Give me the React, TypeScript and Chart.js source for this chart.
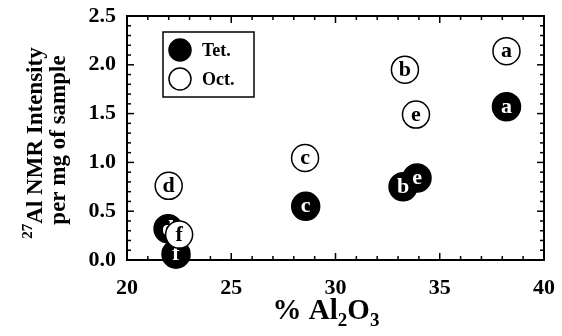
import { useEffect, useRef } from "react";
import { Chart, registerables } from "chart.js";

Chart.register(...registerables);

const samples = ["a", "b", "c", "d", "e", "f"];
const tetAlumina = [38.2, 33.24, 28.57, 21.97, 33.91, 22.35];
const tetIntensity = [1.57, 0.75, 0.55, 0.32, 0.84, 0.06];
const octAlumina = [38.2, 33.33, 28.54, 22.0, 33.86, 22.5];
const octIntensity = [2.14, 1.95, 1.045, 0.76, 1.49, 0.26];
const seriesNames = ["Tet.", "Oct."];
const xRange = [20, 40];
const yRange = [0, 2.5];

const SERIF = '"Liberation Serif", "Times New Roman", serif';

function line(ctx: CanvasRenderingContext2D, x1: number, y1: number, x2: number, y2: number) {
  ctx.beginPath();
  ctx.moveTo(x1, y1);
  ctx.lineTo(x2, y2);
  ctx.stroke();
}

function zeroPad(s: any) {
  s.paddingLeft = 0;
  s.paddingRight = 0;
  s.paddingTop = 0;
  s.paddingBottom = 0;
}

const framePlugin = {
  id: "frame",
  beforeDatasetsDraw(chart: any) {
    const { ctx, chartArea: a, scales } = chart;
    const x = scales.x;
    const y = scales.y;
    ctx.save();
    ctx.strokeStyle = "#000";
    ctx.lineWidth = 2;
    ctx.strokeRect(a.left, a.top, a.right - a.left, a.bottom - a.top);
    ctx.lineWidth = 1.5;
    for (let v = xRange[0]; v <= xRange[1]; v += 1) {
      const px = x.getPixelForValue(v);
      const len = v % 5 === 0 ? 7 : 4;
      line(ctx, px, a.bottom, px, a.bottom - len);
      line(ctx, px, a.top, px, a.top + len);
    }
    for (let i = 0; i <= Math.round(yRange[1] * 10); i++) {
      const py = y.getPixelForValue(i / 10);
      const len = i % 5 === 0 ? 7 : 4;
      line(ctx, a.left, py, a.left + len, py);
      line(ctx, a.right, py, a.right - len, py);
    }
    ctx.restore();
  },
  afterDatasetDraw(chart: any, args: any) {
    const { ctx } = chart;
    const filled = args.index === 0;
    ctx.save();
    ctx.font = `bold 22px ${SERIF}`;
    ctx.textAlign = "center";
    ctx.textBaseline = "alphabetic";
    ctx.fillStyle = filled ? "#fff" : "#000";
    args.meta.data.forEach((el: any, i: number) => {
      ctx.fillText(samples[i], el.x, el.y + 6);
    });
    ctx.restore();
  },
  afterDraw(chart: any) {
    const { ctx } = chart;
    ctx.save();
    // legend box
    ctx.strokeStyle = "#000";
    ctx.lineWidth = 1.5;
    ctx.strokeRect(163, 32, 91, 65);
    const rows = [50, 79];
    rows.forEach((cy, i) => {
      ctx.beginPath();
      ctx.arc(180, cy, 11, 0, Math.PI * 2);
      ctx.fillStyle = i === 0 ? "#000" : "#fff";
      ctx.fill();
      ctx.lineWidth = 1.5;
      ctx.stroke();
      ctx.fillStyle = "#000";
      ctx.font = `bold 18px ${SERIF}`;
      ctx.textAlign = "left";
      ctx.textBaseline = "middle";
      ctx.fillText(seriesNames[i], 202, cy + 1);
    });

    // y title
    ctx.fillStyle = "#000";
    ctx.textBaseline = "alphabetic";
    ctx.textAlign = "left";
    const mainFont = `bold 23px ${SERIF}`;
    const supFont = `bold 15px ${SERIF}`;
    ctx.save();
    ctx.translate(42, 143);
    ctx.rotate(-Math.PI / 2);
    ctx.font = supFont;
    const wSup = ctx.measureText("27").width;
    ctx.font = mainFont;
    const wMain = ctx.measureText("Al NMR Intensity").width;
    const sx = -(wSup + wMain) / 2;
    ctx.font = supFont;
    ctx.fillText("27", sx, -10);
    ctx.font = mainFont;
    ctx.fillText("Al NMR Intensity", sx + wSup, 0);
    ctx.restore();

    ctx.save();
    ctx.translate(65, 140);
    ctx.rotate(-Math.PI / 2);
    ctx.font = mainFont;
    ctx.textAlign = "center";
    ctx.fillText("per mg of sample", 0, 0);
    ctx.restore();

    // x title
    const parts: [string, number, number][] = [
      ["% Al", 29, 0],
      ["2", 19, 7],
      ["O", 29, 0],
      ["3", 19, 7],
    ];
    let total = 0;
    parts.forEach(([t, s]) => {
      ctx.font = `bold ${s}px ${SERIF}`;
      total += ctx.measureText(t).width;
    });
    let cx = 326 - total / 2;
    parts.forEach(([t, s, dy]) => {
      ctx.font = `bold ${s}px ${SERIF}`;
      ctx.fillText(t, cx, 319 + dy);
      cx += ctx.measureText(t).width;
    });
    ctx.restore();
  },
};

export default function App() {
  const ref = useRef<HTMLCanvasElement | null>(null);
  useEffect(() => {
    if (!ref.current) return;
    const tickFont = { family: SERIF, size: 22, weight: "bold" as const };
    const chart = new Chart(ref.current, {
      type: "scatter",
      data: {
        datasets: [
          {
            label: seriesNames[0],
            data: tetAlumina.map((v, i) => ({ x: v, y: tetIntensity[i] })),
            backgroundColor: "#000",
            borderColor: "#000",
            borderWidth: 1.5,
            pointRadius: 14,
            pointHoverRadius: 14,
            order: 2,
            clip: false as any,
          },
          {
            label: seriesNames[1],
            data: octAlumina.map((v, i) => ({ x: v, y: octIntensity[i] })),
            backgroundColor: "#fff",
            borderColor: "#000",
            borderWidth: 1.5,
            pointRadius: 13.5,
            pointHoverRadius: 13.5,
            order: 1,
            clip: false as any,
          },
        ],
      },
      options: {
        animation: false,
        responsive: false,
        events: [],
        layout: { padding: { top: 16, right: 18, left: 0, bottom: 0 } },
        plugins: { legend: { display: false }, tooltip: { enabled: false } },
        scales: {
          x: {
            type: "linear",
            min: xRange[0],
            max: xRange[1],
            grid: { display: false, drawTicks: false },
            border: { display: false },
            ticks: { stepSize: 5, color: "#000", font: tickFont, padding: 15, maxRotation: 0 },
            afterFit: (s: any) => {
              s.height = 76;
              zeroPad(s);
            },
          },
          y: {
            type: "linear",
            min: yRange[0],
            max: yRange[1],
            grid: { display: false, drawTicks: false },
            border: { display: false },
            ticks: {
              stepSize: 0.5,
              color: "#000",
              font: tickFont,
              padding: 11,
              callback: (v: any) => Number(v).toFixed(1),
            },
            afterFit: (s: any) => {
              s.width = 127;
              zeroPad(s);
            },
          },
        },
      },
      plugins: [framePlugin],
    });
    return () => chart.destroy();
  }, []);
  return (
    <div style={{ position: "fixed", left: 0, top: 0, width: 562, height: 336, background: "#fff" }}>
      <canvas ref={ref} width={562} height={336} style={{ width: 562, height: 336 }} />
    </div>
  );
}
